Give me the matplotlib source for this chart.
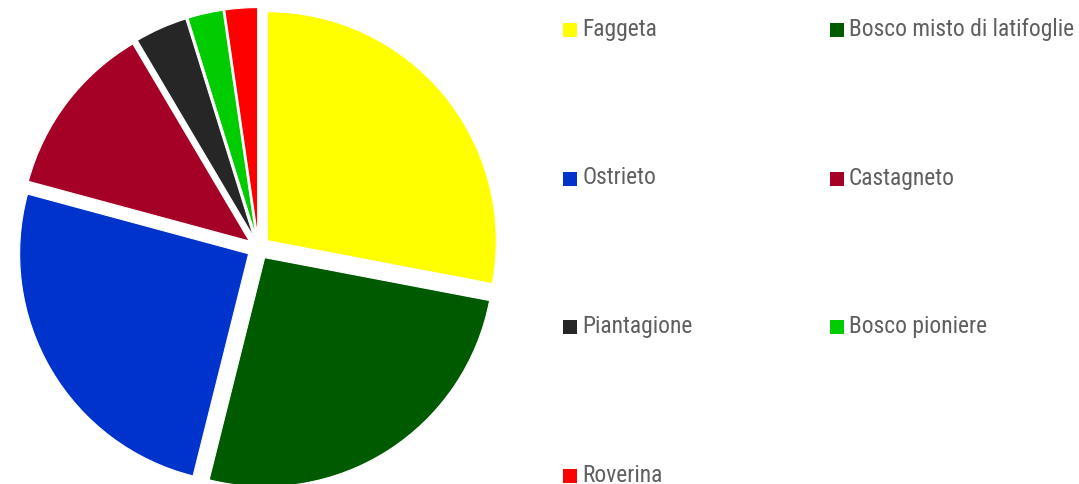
import matplotlib
matplotlib.use("Agg")
import matplotlib.pyplot as plt
from matplotlib.patches import Rectangle

labels = ["Faggeta", "Bosco misto di latifoglie", "Ostrieto", "Castagneto",
          "Piantagione", "Bosco pioniere", "Roverina"]
values = [28.0, 25.9, 25.3, 12.3, 3.7, 2.5, 2.3]
colors = ["#ffff00", "#005a00", "#0033cc", "#a50026", "#262626", "#00cc00", "#ff0000"]

plt.rcParams["font.family"] = ["Roboto Condensed", "DejaVu Sans"]

W, H = 1079, 484
fig = plt.figure(figsize=(W / 100, H / 100), dpi=100)

# pie: centre (258.5, 248) px, radius 229 px
r = 229
cx, cy = 258.5, 248
half = 1.2 * r
ax = fig.add_axes([(cx - half) / W, (H - cy - half) / H, 2 * half / W, 2 * half / H])
ax.pie(values, colors=colors, startangle=90, counterclock=False,
       explode=[0.05] * len(values),
       wedgeprops=dict(edgecolor="white", linewidth=0.8))
ax.set_xlim(-1.2, 1.2)
ax.set_ylim(-1.2, 1.2)
ax.set_aspect("equal")
ax.axis("off")

# legend, filled row by row
col_x = [563, 830]
for i, (lab, col) in enumerate(zip(labels, colors)):
    row, c = divmod(i, 2)
    x = col_x[c]
    base = 35.7 + row * 148.8
    fig.add_artist(Rectangle((x / W, (H - base - 1) / H), 14 / W, 14 / H,
                             transform=fig.transFigure, facecolor=col, edgecolor="none"))
    fig.text((x + 19) / W, (H - base) / H, lab, fontsize=16.9, color="#5f5f5f",
             va="baseline", ha="left", fontstretch="condensed")

fig.savefig("out.png", dpi=100)
